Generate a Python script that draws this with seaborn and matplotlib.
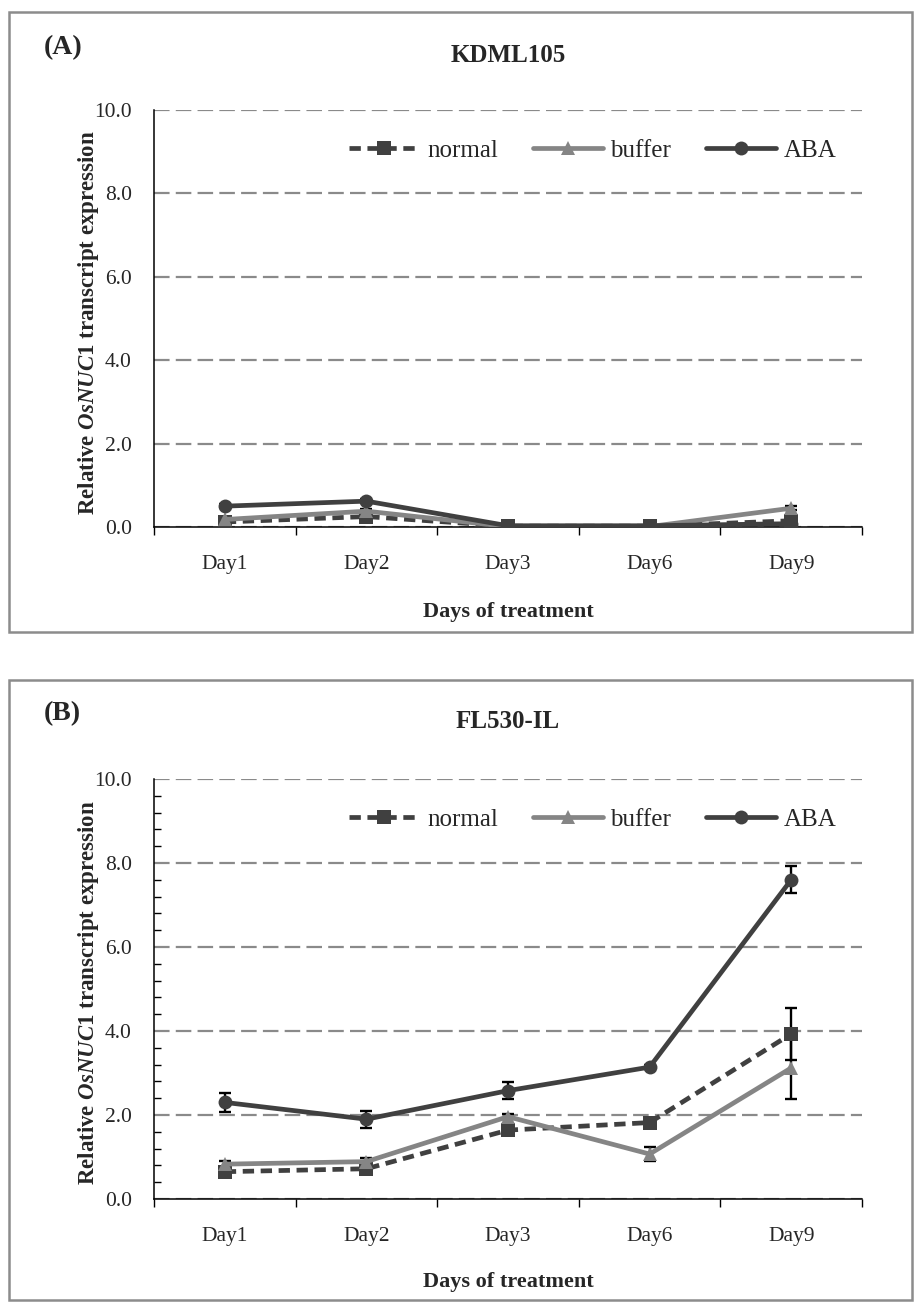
import numpy as np
import pandas as pd
import matplotlib
matplotlib.use("Agg")
import matplotlib.pyplot as plt
import seaborn as sns
from matplotlib.patches import Rectangle
from matplotlib.ticker import MultipleLocator, FixedLocator

# ---- data ----
days = ["Day1", "Day2", "Day3", "Day6", "Day9"]
treatments = ["normal", "buffer", "ABA"]

kdml_normal = [0.12, 0.25, 0.02, 0.02, 0.15]
kdml_buffer = [0.18, 0.38, 0.01, 0.01, 0.45]
kdml_aba = [0.50, 0.62, 0.03, 0.03, 0.08]
kdml_normal_err = [0.03, 0.04, 0.01, 0.01, 0.03]
kdml_buffer_err = [0.03, 0.04, 0.01, 0.01, 0.05]
kdml_aba_err = [0.04, 0.05, 0.01, 0.01, 0.02]

fl_normal = [0.65, 0.72, 1.64, 1.82, 3.93]
fl_buffer = [0.83, 0.89, 1.96, 1.07, 3.12]
fl_aba = [2.30, 1.90, 2.58, 3.14, 7.60]
fl_normal_err = [0.08, 0.12, 0.10, 0.12, 0.62]
fl_buffer_err = [0.07, 0.08, 0.06, 0.17, 0.73]
fl_aba_err = [0.23, 0.20, 0.20, 0.05, 0.32]

W, H = 916, 1308
sns.set_style("white")
plt.rcParams['font.family'] = ['Liberation Serif', 'DejaVu Serif']
plt.rcParams['mathtext.fontset'] = 'custom'
plt.rcParams['mathtext.it'] = 'Liberation Serif:italic:bold'
plt.rcParams['mathtext.rm'] = 'Liberation Serif:bold'
plt.rcParams['mathtext.bf'] = 'Liberation Serif:bold'

DARK = "#404040"
GRAY = "#858585"
palette = {"normal": DARK, "buffer": GRAY, "ABA": DARK}
markers = {"normal": "s", "buffer": "^", "ABA": "o"}
dashes = {"normal": (2.4, 1.4), "buffer": "", "ABA": ""}


def fx(px):
    return px / W


def fy(py):
    return 1 - py / H


def draw_panel(ax, means, errs, minor):
    rows = []
    for t, vals in zip(treatments, means):
        for d, v in zip(days, vals):
            rows.append({"day": d, "treatment": t, "value": v})
    df = pd.DataFrame(rows)

    for t, vals, e in zip(treatments, means, errs):
        ax.errorbar(np.arange(len(days)), vals, yerr=e, fmt='none', ecolor='black',
                    elinewidth=1.7, capsize=4, capthick=1.7, zorder=2)

    sns.lineplot(data=df, x="day", y="value", hue="treatment", style="treatment",
                 palette=palette, markers=markers, dashes=dashes, hue_order=treatments,
                 style_order=treatments, lw=3.4, markersize=10, markeredgewidth=0,
                 errorbar=None, sort=False, ax=ax, zorder=3)

    ax.set_xlim(-0.5, 4.5)
    ax.set_ylim(0, 10)
    ax.set_yticks(np.arange(0, 10.1, 2))
    ax.set_yticklabels([f"{v:.1f}" for v in np.arange(0, 10.1, 2)])
    ax.yaxis.grid(True, color="#8a8a8a", lw=1.6, ls=(0, (7, 2.8)))
    ax.set_axisbelow(True)
    ax.xaxis.grid(False)
    ax.set_xlabel("")
    ax.set_ylabel("")
    for s in ["top", "right"]:
        ax.spines[s].set_visible(False)
    for s in ["left", "bottom"]:
        ax.spines[s].set_color("black")
        ax.spines[s].set_linewidth(1.1)
    ax.tick_params(axis='y', which='major', direction='out', length=6, width=1,
                   color='black', labelsize=15.5, pad=10)
    if minor:
        ax.yaxis.set_minor_locator(MultipleLocator(0.4))
        ax.tick_params(axis='y', which='minor', direction='in', length=5, width=1,
                       color='black', left=True)
    ax.set_xticks(range(len(days)))
    ax.set_xticklabels(days)
    ax.xaxis.set_minor_locator(FixedLocator(np.arange(-0.5, 4.6, 1)))
    ax.tick_params(axis='x', which='major', length=0, labelsize=15.5, pad=20)
    ax.tick_params(axis='x', which='minor', direction='out', length=6, width=1,
                   color='black', bottom=True)

    handles, labels = ax.get_legend_handles_labels()
    if ax.get_legend() is not None:
        ax.get_legend().remove()
    ax.legend(handles, labels, ncol=3, frameon=False, fontsize=18,
              loc='upper right', bbox_to_anchor=(0.985, 0.965), handlelength=2.8,
              handletextpad=0.3, columnspacing=1.4, borderaxespad=0.2)


fig = plt.figure(figsize=(W / 100, H / 100), dpi=100)

panels = [
    dict(top=110, bottom=527, frame=(9, 12, 912, 632), label="(A)", title="KDML105",
         means=[kdml_normal, kdml_buffer, kdml_aba],
         errs=[kdml_normal_err, kdml_buffer_err, kdml_aba_err], minor=False,
         lab_y=48, title_y=55, xlab_y=612),
    dict(top=779, bottom=1199, frame=(9, 680, 912, 1300), label="(B)", title="FL530-IL",
         means=[fl_normal, fl_buffer, fl_aba],
         errs=[fl_normal_err, fl_buffer_err, fl_aba_err], minor=True,
         lab_y=714, title_y=722, xlab_y=1282),
]

left_px, right_px = 154, 862
for p in panels:
    ax = fig.add_axes([fx(left_px), fy(p["bottom"]), fx(right_px - left_px),
                       (p["bottom"] - p["top"]) / H])
    draw_panel(ax, p["means"], p["errs"], p["minor"])

    x0, y0, x1, y1 = p["frame"]
    fig.patches.append(Rectangle((fx(x0), fy(y1)), fx(x1 - x0), (y1 - y0) / H,
                                 transform=fig.transFigure, fill=False,
                                 edgecolor="#8c8c8c", lw=1.8))
    fig.text(fx(44), fy(p["lab_y"]), p["label"], fontsize=20, fontweight='bold',
             ha='left', va='center')
    fig.text(fx((left_px + right_px) / 2), fy(p["title_y"]), p["title"], fontsize=18,
             fontweight='bold', ha='center', va='center')
    fig.text(fx((left_px + right_px) / 2), fy(p["xlab_y"]), "Days of treatment",
             fontsize=16, fontweight='bold', ha='center', va='center')
    fig.text(fx(89), fy((p["top"] + p["bottom"]) / 2 + 4),
             r"Relative $\mathit{OsNUC1}$ transcript expression", fontsize=16.5,
             fontweight='bold', rotation=90, ha='center', va='center')

fig.savefig("out.png", dpi=100)
